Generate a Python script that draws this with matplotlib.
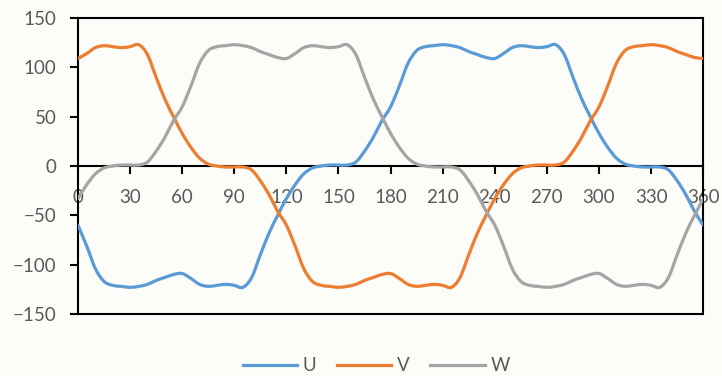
import matplotlib
matplotlib.use('Agg')
import matplotlib.pyplot as plt
from matplotlib.patches import Rectangle, PathPatch
from matplotlib.path import Path
from matplotlib.lines import Line2D

# Phase values every 5 degrees
angle = list(range(0, 361, 5))
u = [-60, -81, -104, -117, -121, -122, -123, -122, -120, -116, -113, -110,
     -109, -114, -120, -122, -121, -120, -121, -123, -113, -90, -68, -50,
     -33, -19, -8, -2, 0, 1, 1, 1, 4, 15, 29, 46,
     60, 81, 104, 117, 121, 122, 123, 122, 120, 116, 113, 110,
     109, 114, 120, 122, 121, 120, 121, 123, 113, 90, 68, 50,
     33, 19, 8, 2, 0, -1, -1, -1, -4, -15, -29, -46, -60]
v = [109, 114, 120, 122, 121, 120, 121, 123, 113, 90, 68, 50,
     33, 19, 8, 2, 0, -1, -1, -1, -4, -15, -29, -46,
     -60, -81, -104, -117, -121, -122, -123, -122, -120, -116, -113, -110,
     -109, -114, -120, -122, -121, -120, -121, -123, -113, -90, -68, -50,
     -33, -19, -8, -2, 0, 1, 1, 1, 4, 15, 29, 46,
     60, 81, 104, 117, 121, 122, 123, 122, 120, 116, 113, 110, 109]
w = [-33, -19, -8, -2, 0, 1, 1, 1, 4, 15, 29, 46,
     60, 81, 104, 117, 121, 122, 123, 122, 120, 116, 113, 110,
     109, 114, 120, 122, 121, 120, 121, 123, 113, 90, 68, 50,
     33, 19, 8, 2, 0, -1, -1, -1, -4, -15, -29, -46,
     -60, -81, -104, -117, -121, -122, -123, -122, -120, -116, -113, -110,
     -109, -114, -120, -122, -121, -120, -121, -123, -113, -90, -68, -50, -33]

series_names = ['U', 'V', 'W']
x_ticks = list(range(0, 361, 30))
y_ticks = [-150, -100, -50, 0, 50, 100, 150]

colors = {'U': '#5B9BD5', 'V': '#ED7D31', 'W': '#A5A5A5'}
text_color = '#595959'
font = {'family': 'Lato', 'size': 13.5}


def smooth_path(xs, ys):
    """Bezier path through the points, like a spreadsheet 'smoothed line'."""
    n = len(xs)
    verts = [(xs[0], ys[0])]
    codes = [Path.MOVETO]
    for i in range(n - 1):
        x0, y0 = (xs[i - 1], ys[i - 1]) if i > 0 else (xs[i], ys[i])
        x1, y1 = xs[i], ys[i]
        x2, y2 = xs[i + 1], ys[i + 1]
        x3, y3 = (xs[i + 2], ys[i + 2]) if i + 2 < n else (x2, y2)
        c1 = (x1 + (x2 - x0) / 6, y1 + (y2 - y0) / 6)
        c2 = (x2 - (x3 - x1) / 6, y2 - (y3 - y1) / 6)
        verts += [c1, c2, (x2, y2)]
        codes += [Path.CURVE4] * 3
    return Path(verts, codes)


fig = plt.figure(figsize=(7.22, 3.76), dpi=100)
fig.patch.set_facecolor('#fcfcf8')
ax = fig.add_axes([0.108, 0.165, 0.866, 0.787])
ax.set_facecolor('#fcfcf8')

handles = []
for name, vals in zip(series_names, [u, v, w]):
    ax.add_patch(PathPatch(smooth_path(angle, vals), facecolor='none',
                           edgecolor=colors[name], lw=2.3, zorder=3,
                           capstyle='round', joinstyle='round'))
    handles.append(Line2D([], [], color=colors[name], lw=2.3))

ax.set_xlim(0, 360)
ax.set_ylim(-150, 150)
ax.set_xticks(x_ticks)
ax.set_yticks(y_ticks)

# x axis crosses at zero, frame drawn around plot area
for s in ['top', 'right', 'left']:
    ax.spines[s].set_visible(False)
ax.spines['bottom'].set_position(('data', 0))
ax.spines['bottom'].set_color('black')
ax.spines['bottom'].set_linewidth(1.5)
ax.add_patch(Rectangle((0, 0), 1, 1, transform=ax.transAxes, fill=False,
                       edgecolor='black', linewidth=1.5, clip_on=False, zorder=2.6))

ax.tick_params(axis='x', direction='out', length=5.5, width=1.5, color='black',
               pad=11, labelcolor=text_color)
ax.tick_params(axis='y', direction='out', length=5.5, width=1.5, color='black',
               pad=10, labelcolor=text_color)
for lab in ax.get_xticklabels() + ax.get_yticklabels():
    lab.set_fontfamily(font['family'])
    lab.set_fontsize(font['size'])

leg = fig.legend(handles, series_names, loc='center', bbox_to_anchor=(0.521, 0.027),
                 ncol=3, frameon=False, handlelength=2.9, handletextpad=0.3,
                 columnspacing=1.1, prop=font)
for t in leg.get_texts():
    t.set_color(text_color)

fig.savefig('out.png', dpi=100, facecolor=fig.get_facecolor())
